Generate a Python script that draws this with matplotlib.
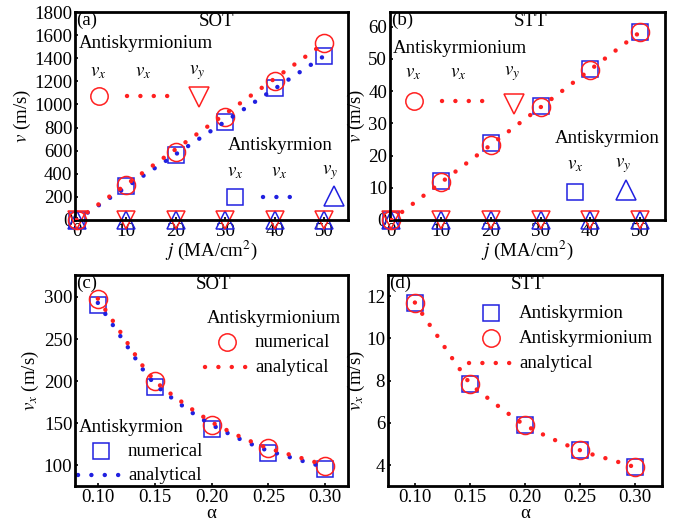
import matplotlib
matplotlib.use('Agg')
import matplotlib.pyplot as plt
import numpy as np

plt.rcParams['font.family'] = ['Liberation Serif', 'DejaVu Serif']
plt.rcParams['mathtext.fontset'] = 'stix'
plt.rcParams['font.size'] = 13.6

RED = '#ff2020'
BLUE = '#2020e0'

# (a) SOT, v vs j
j_num = [0, 10, 20, 30, 40, 50]
a_ium_vx = [0, 300, 590, 890, 1200, 1530]
a_ion_vx = [0, 290, 560, 850, 1140, 1420]
a_vy = [0, 0, 0, 0, 0, 0]
j_line = [0, 50]
a_ium_line = [0, 1530]
a_ion_line = [0, 1420]

# (b) STT, v vs j
b_ium_vx = [0, 11.8, 23.4, 35.2, 46.5, 58.3]
b_ion_vx = [0, 12.0, 23.8, 35.3, 46.8, 58.3]
b_vy = [0, 0, 0, 0, 0, 0]
b_line = [0, 58.3]

# (c) SOT, vx vs alpha
alpha_num = [0.10, 0.15, 0.20, 0.25, 0.30]
c_ium_vx = [298, 200, 148, 120, 99]
c_ion_vx = [290, 193, 143, 115, 95]
c_alpha_line = [0.10, 0.11, 0.12, 0.13, 0.14, 0.15, 0.16, 0.17, 0.18, 0.19,
                0.20, 0.21, 0.22, 0.23, 0.24, 0.25, 0.26, 0.27, 0.28, 0.29, 0.30]
c_ium_line = [298, 278, 258, 237, 217, 200, 189, 179, 169, 160,
              151, 144, 137, 131, 125, 120, 116, 112, 108, 104, 100]
c_ion_line = [293, 273, 253, 233, 213, 196, 185, 175, 165, 156,
              148, 141, 134, 128, 122, 117, 113, 109, 105, 101, 98]

# (d) STT, vx vs alpha
d_ium_vx = [11.7, 7.85, 5.88, 4.7, 3.9]
d_ion_vx = [11.7, 7.85, 5.9, 4.7, 3.9]
d_alpha_line = [0.10, 0.11, 0.12, 0.13, 0.14, 0.15, 0.16, 0.17, 0.18, 0.19,
                0.20, 0.21, 0.22, 0.23, 0.24, 0.25, 0.26, 0.27, 0.28, 0.29, 0.30]
d_line = [11.7, 10.9, 10.15, 9.35, 8.6, 7.85, 7.42, 7.02, 6.62, 6.24,
          5.88, 5.62, 5.35, 5.12, 4.9, 4.7, 4.52, 4.37, 4.22, 4.06, 3.9]

MS = 13
DOT = dict(linestyle=(0, (0.01, 3.0)), dash_capstyle='round', linewidth=3.2)


def style(ax):
    for s in ax.spines.values():
        s.set_linewidth(2)
    ax.tick_params(direction='in', length=2.5, width=1.2, pad=2, labelsize=13.6)


def circ(ax, x, y, **kw):
    ax.plot(x, y, 'o', ms=MS, mfc='none', mec=RED, mew=1.1, clip_on=False, **kw)


def sq(ax, x, y, **kw):
    ax.plot(x, y, 's', ms=MS - 2, mfc='none', mec=BLUE, mew=1.1, clip_on=False, **kw)


def tri(ax, x, y, m, c, **kw):
    ax.plot(x, y, m, ms=MS, mfc='none', mec=c, mew=1.1, clip_on=False, **kw)


fig = plt.figure(figsize=(6.89, 5.25), dpi=100)
ax_a = fig.add_axes([0.109, 0.581, 0.396, 0.396])
ax_b = fig.add_axes([0.566, 0.581, 0.399, 0.396])
ax_c = fig.add_axes([0.109, 0.074, 0.396, 0.402])
ax_d = fig.add_axes([0.563, 0.074, 0.398, 0.402])

# ---- (a)
ax = ax_a
ax.plot(j_line, a_ion_line, color=BLUE, zorder=3, **DOT)
ax.plot(j_line, a_ium_line, color=RED, zorder=4, **DOT)
sq(ax, j_num, a_ion_vx, zorder=2)
circ(ax, j_num, a_ium_vx, zorder=2.5)
tri(ax, j_num, a_vy, '^', BLUE, zorder=2)
tri(ax, j_num, a_vy, 'v', RED, zorder=2.5)
ax.set_xlim(-0.3, 54.8)
ax.set_ylim(0, 1800)
ax.set_xticks([0, 10, 20, 30, 40, 50])
ax.set_yticks(range(0, 1801, 200))
ax.set_xlabel('$j$ (MA/cm$^2$)', labelpad=-0.5)
ax.set_ylabel('$v$ (m/s)', labelpad=1)

# ---- (b)
ax = ax_b
ax.plot(j_line, b_line, color=RED, zorder=4, **DOT)
sq(ax, j_num, b_ion_vx, zorder=2)
circ(ax, j_num, b_ium_vx, zorder=2.5)
tri(ax, j_num, b_vy, '^', BLUE, zorder=2)
tri(ax, j_num, b_vy, 'v', RED, zorder=2.5)
ax.set_xlim(-0.3, 55)
ax.set_ylim(0, 64.5)
ax.set_xticks([0, 10, 20, 30, 40, 50])
ax.set_yticks(range(0, 61, 10))
ax.set_xlabel('$j$ (MA/cm$^2$)', labelpad=-0.5)
ax.set_ylabel('$v$ (m/s)', labelpad=1)

# ---- (c)
ax = ax_c
ax.plot(c_alpha_line, c_ion_line, color=BLUE, zorder=3, **DOT)
ax.plot(c_alpha_line, c_ium_line, color=RED, zorder=4, **DOT)
sq(ax, alpha_num, c_ion_vx, zorder=2)
circ(ax, alpha_num, c_ium_vx, zorder=2.5)
ax.set_xlim(0.08, 0.32)
ax.set_ylim(75, 326)
ax.set_xticks([0.10, 0.15, 0.20, 0.25, 0.30])
ax.set_xticklabels(['0.10', '0.15', '0.20', '0.25', '0.30'])
ax.set_yticks([100, 150, 200, 250, 300])
ax.set_xlabel('α', labelpad=-1)
ax.set_ylabel('$v_x$ (m/s)', labelpad=2)

# ---- (d)
ax = ax_d
ax.plot(d_alpha_line, d_line, color=RED, zorder=4, **DOT)
sq(ax, alpha_num, d_ion_vx, zorder=2)
circ(ax, alpha_num, d_ium_vx, zorder=2.5)
ax.set_xlim(0.0755, 0.3245)
ax.set_ylim(3, 13)
ax.set_xticks([0.10, 0.15, 0.20, 0.25, 0.30])
ax.set_xticklabels(['0.10', '0.15', '0.20', '0.25', '0.30'])
ax.set_yticks([4, 6, 8, 10, 12])
ax.set_xlabel('α', labelpad=-1)
ax.set_ylabel('$v_x$ (m/s)', labelpad=-1)

for a in (ax_a, ax_b, ax_c, ax_d):
    style(a)

# panel tags and titles
for a, tag, ttl, tx in ((ax_a, '(a)', 'SOT', 0.52), (ax_b, '(b)', 'STT', 0.51),
                        (ax_c, '(c)', 'SOT', 0.506), (ax_d, '(d)', 'STT', 0.51)):
    a.text(0.005, 1.0, tag, transform=a.transAxes, ha='left', va='top')
    a.text(tx, 0.995, ttl, transform=a.transAxes, ha='center', va='top')

# legend glyphs, drawn in axes fractions
LM = dict(mfc='none', mew=1.1, clip_on=False)
# (a)
ax = ax_a
tr = ax.transAxes
ax.text(0.012, 0.851, 'Antiskyrmionium', transform=tr, va='center')
ax.text(0.084, 0.707, '$v_x$', transform=tr, ha='center', va='center')
ax.text(0.25, 0.707, '$v_x$', transform=tr, ha='center', va='center')
ax.text(0.446, 0.707, '$v_y$', transform=tr, ha='center', va='center')
ax.plot([0.088], [0.596], 'o', ms=12.5, mec=RED, transform=tr, **LM)
ax.plot([0.19, 0.345], [0.596, 0.596], color=RED, transform=tr, **DOT)
ax.plot([0.455], [0.591], 'v', ms=14, mec=RED, transform=tr, **LM)
ax.text(0.56, 0.36, 'Antiskyrmion', transform=tr, va='center')
ax.text(0.586, 0.226, '$v_x$', transform=tr, ha='center', va='center')
ax.text(0.748, 0.226, '$v_x$', transform=tr, ha='center', va='center')
ax.text(0.934, 0.226, '$v_y$', transform=tr, ha='center', va='center')
ax.plot([0.586], [0.11], 's', ms=11.5, mec=BLUE, transform=tr, **LM)
ax.plot([0.69, 0.835], [0.11, 0.11], color=BLUE, transform=tr, **DOT)
ax.plot([0.95], [0.115], '^', ms=14, mec=BLUE, transform=tr, **LM)

# (b)
ax = ax_b
tr = ax.transAxes
ax.text(0.012, 0.826, 'Antiskyrmionium', transform=tr, va='center')
ax.text(0.085, 0.706, '$v_x$', transform=tr, ha='center', va='center')
ax.text(0.248, 0.706, '$v_x$', transform=tr, ha='center', va='center')
ax.text(0.443, 0.706, '$v_y$', transform=tr, ha='center', va='center')
ax.plot([0.087], [0.573], 'o', ms=12.5, mec=RED, transform=tr, **LM)
ax.plot([0.189, 0.338], [0.573, 0.573], color=RED, transform=tr, **DOT)
ax.plot([0.45], [0.56], 'v', ms=14, mec=RED, transform=tr, **LM)
ax.text(0.6, 0.394, 'Antiskyrmion', transform=tr, va='center')
ax.text(0.673, 0.264, '$v_x$', transform=tr, ha='center', va='center')
ax.text(0.847, 0.264, '$v_y$', transform=tr, ha='center', va='center')
ax.plot([0.673], [0.135], 's', ms=11.5, mec=BLUE, transform=tr, **LM)
ax.plot([0.858], [0.144], '^', ms=14, mec=BLUE, transform=tr, **LM)

# (c)
ax = ax_c
tr = ax.transAxes
ax.text(0.483, 0.796, 'Antiskyrmionium', transform=tr, va='center')
ax.plot([0.556], [0.682], 'o', ms=12.5, mec=RED, transform=tr, **LM)
ax.text(0.659, 0.682, 'numerical', transform=tr, va='center')
ax.plot([0.476, 0.63], [0.564, 0.564], color=RED, transform=tr, **DOT)
ax.text(0.659, 0.564, 'analytical', transform=tr, va='center')
ax.text(0.012, 0.28, 'Antiskyrmion', transform=tr, va='center')
ax.plot([0.095], [0.166], 's', ms=11.5, mec=BLUE, transform=tr, **LM)
ax.text(0.194, 0.166, 'numerical', transform=tr, va='center')
ax.plot([0.012, 0.165], [0.052, 0.052], color=BLUE, transform=tr, **DOT)
ax.text(0.194, 0.052, 'analytical', transform=tr, va='center')

# (d)
ax = ax_d
tr = ax.transAxes
ax.plot([0.376], [0.82], 's', ms=11.5, mec=BLUE, transform=tr, **LM)
ax.text(0.478, 0.82, 'Antiskyrmion', transform=tr, va='center')
ax.plot([0.376], [0.701], 'o', ms=12.5, mec=RED, transform=tr, **LM)
ax.text(0.478, 0.701, 'Antiskyrmionium', transform=tr, va='center')
ax.plot([0.296, 0.447], [0.583, 0.583], color=RED, transform=tr, **DOT)
ax.text(0.478, 0.583, 'analytical', transform=tr, va='center')

fig.savefig('out.png', dpi=100)
